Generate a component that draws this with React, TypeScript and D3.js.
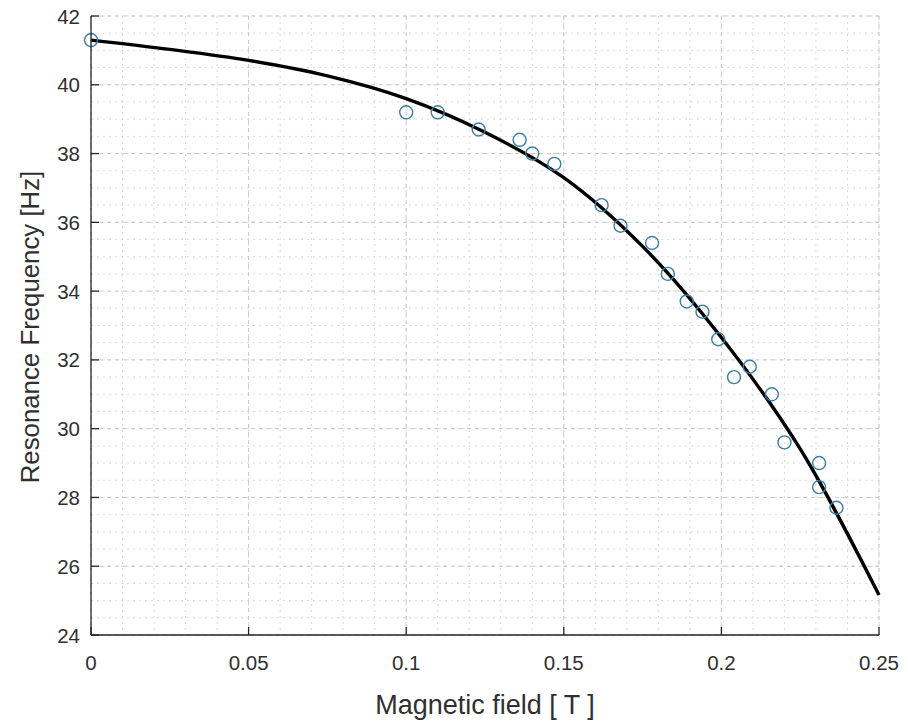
import React from "react";
import * as d3 from "d3";

const fieldT = [0, 0.1, 0.11, 0.123, 0.136, 0.14, 0.147, 0.162, 0.168, 0.178, 0.183, 0.189, 0.194, 0.199, 0.204, 0.209, 0.216, 0.22, 0.231, 0.231, 0.2365];
const freqHz = [41.3, 39.2, 39.2, 38.7, 38.4, 38.0, 37.7, 36.5, 35.9, 35.4, 34.5, 33.7, 33.4, 32.6, 31.5, 31.8, 31.0, 29.6, 29.0, 28.3, 27.7];

const fitT = [0, 0.025, 0.05, 0.075, 0.1, 0.125, 0.15, 0.175, 0.2, 0.225, 0.25];
const fitHz = [41.3, 41.03, 40.71, 40.26, 39.6, 38.62, 37.3, 35.3, 32.65, 29.41, 25.16];

const xTicks = [0, 0.05, 0.1, 0.15, 0.2, 0.25];
const xTickLabels = ["0", "0.05", "0.1", "0.15", "0.2", "0.25"];
const yTicks = [24, 26, 28, 30, 32, 34, 36, 38, 40, 42];

const xLabel = "Magnetic field [ T ]";
const yLabel = "Resonance Frequency [Hz]";

const W = 908;
const H = 724;
const L = 91, R = 879, T = 16, B = 635;
const FONT = "'Liberation Sans', Arial, Helvetica, sans-serif";
const TXT = "#303030";

export default function App() {
  const x = d3.scaleLinear().domain([0, 0.25]).range([L, R]);
  const y = d3.scaleLinear().domain([24, 42]).range([B, T]);

  const xMinor = d3.range(0, 0.2500001, 0.01).map((v) => +v.toFixed(3));
  const yMinor = d3.range(24, 42.0001, 0.5);

  const line = d3
    .line<number>()
    .x((_, i) => x(fitT[i]))
    .y((d) => y(d))
    .curve(d3.curveCatmullRom.alpha(0.5));

  return (
    <svg width={W} height={H} style={{ position: "absolute", left: 0, top: 0, background: "#fff" }}>
      <rect x={0} y={0} width={W} height={H} fill="#fff" />
      {/* minor grid */}
      <g stroke="#d9d9d9" strokeWidth={1} strokeDasharray="2,4" fill="none">
        {xMinor.map((v, i) => (
          <line key={"xm" + i} x1={x(v)} x2={x(v)} y1={T} y2={B} />
        ))}
        {yMinor.map((v, i) => (
          <line key={"ym" + i} x1={L} x2={R} y1={y(v)} y2={y(v)} />
        ))}
      </g>
      {/* major grid */}
      <g stroke="#c8c8c8" strokeWidth={1} strokeDasharray="4,4" fill="none">
        {xTicks.map((v, i) => (
          <line key={"xg" + i} x1={x(v)} x2={x(v)} y1={T} y2={B} />
        ))}
        {yTicks.map((v, i) => (
          <line key={"yg" + i} x1={L} x2={R} y1={y(v)} y2={y(v)} />
        ))}
      </g>
      {/* fit line */}
      <path d={line(fitHz) || ""} fill="none" stroke="#000" strokeWidth={3.4} strokeLinejoin="round" />
      {/* data circles */}
      <g fill="none" stroke="#3b7fa6" strokeWidth={1.4}>
        {fieldT.map((v, i) => (
          <circle key={"c" + i} cx={x(v)} cy={y(freqHz[i])} r={6.5} />
        ))}
      </g>
      {/* axes */}
      <g stroke="#262626" strokeWidth={1.3} fill="none">
        <line x1={L} x2={L} y1={T} y2={B} />
        <line x1={L} x2={R} y1={B} y2={B} />
        {xTicks.map((v, i) => (
          <line key={"xt" + i} x1={x(v)} x2={x(v)} y1={B} y2={B - 8} />
        ))}
        {yTicks.map((v, i) => (
          <line key={"yt" + i} x1={L} x2={L + 8} y1={y(v)} y2={y(v)} />
        ))}
      </g>
      <g fill={TXT} fontFamily={FONT} fontSize={20.5}>
        {xTicks.map((v, i) => (
          <text key={"xl" + i} x={x(v)} y={B + 35} textAnchor="middle">
            {xTickLabels[i]}
          </text>
        ))}
        {yTicks.map((v, i) => (
          <text key={"yl" + i} x={L - 11} y={y(v) + 7.5} textAnchor="end">
            {v}
          </text>
        ))}
      </g>
      <text x={485} y={714} textAnchor="middle" fontFamily={FONT} fontSize={27} fill={TXT}>
        {xLabel}
      </text>
      <text
        transform={`translate(39, 327) rotate(-90)`}
        textAnchor="middle"
        fontFamily={FONT}
        fontSize={25.8}
        fill={TXT}
      >
        {yLabel}
      </text>
    </svg>
  );
}
